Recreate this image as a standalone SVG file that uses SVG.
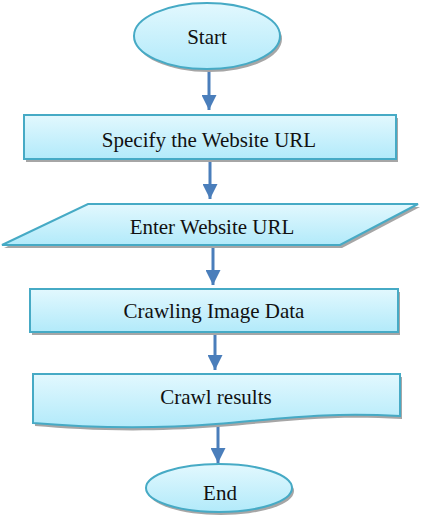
<svg xmlns="http://www.w3.org/2000/svg" width="426" height="524" viewBox="0 0 426 524">
<defs>
<linearGradient id="fillG" x1="0" y1="0" x2="0" y2="1">
<stop offset="0" stop-color="#e2f8fe"/>
<stop offset="1" stop-color="#b2eafa"/>
</linearGradient>
<marker id="ah" markerWidth="5" markerHeight="5" refX="5" refY="2.5" orient="auto" markerUnits="strokeWidth">
<path d="M0,0 L5,2.5 L0,5 Z" fill="#4a7ebb"/>
</marker>
<style>
.shape{fill:url(#fillG);stroke:#46aac5;stroke-width:2;}
.shadow{fill:#a6a6a6;stroke:none;}
text{font-family:'Liberation Serif',serif;font-size:21px;fill:#111;text-anchor:middle;}
.conn{stroke:#4a7ebb;stroke-width:3;fill:none;marker-end:url(#ah);}
</style>
</defs>
<rect width="426" height="524" fill="#ffffff"/>
<g id="connectors">
<line class="conn" x1="209" y1="70" x2="209" y2="110"/>
<line class="conn" x1="210" y1="160" x2="210" y2="199"/>
<line class="conn" x1="213" y1="246" x2="213" y2="285"/>
<line class="conn" x1="215" y1="333" x2="215" y2="370"/>
<line class="conn" x1="218" y1="425" x2="218" y2="463"/>
</g>
<g id="start">
<ellipse class="shadow" cx="209" cy="39" rx="73" ry="33"/>
<ellipse class="shape" cx="207" cy="36" rx="73" ry="33"/>
<text x="207" y="44" font-family="Liberation Serif, serif">Start</text>
</g>
<g id="specify">
<rect class="shadow" x="26" y="118" width="372" height="44"/>
<rect class="shape" x="24" y="115" width="372" height="44"/>
<text x="209" y="147" font-family="Liberation Serif, serif">Specify the Website URL</text>
</g>
<g id="enter">
<polygon class="shadow" points="90,207 420,207 342,248 4,248"/>
<polygon class="shape" points="88,204 418,204 340,245 2,245"/>
<text x="212" y="234" font-family="Liberation Serif, serif">Enter Website URL</text>
</g>
<g id="crawling">
<rect class="shadow" x="32" y="292" width="368" height="43"/>
<rect class="shape" x="30" y="289" width="368" height="43"/>
<text x="214" y="318" font-family="Liberation Serif, serif">Crawling Image Data</text>
</g>
<g id="results">
<path class="shadow" d="M35,377 H402 V419 C330,415 290,421 218,427 C142,433 82,430 35,426 Z"/>
<path class="shape" d="M33,374 H400 V416 C328,412 288,418 216,424 C140,430 80,427 33,423 Z"/>
<text x="216" y="404" font-family="Liberation Serif, serif">Crawl results</text>
</g>
<g id="end">
<ellipse class="shadow" cx="221" cy="491" rx="73" ry="24"/>
<ellipse class="shape" cx="219" cy="488" rx="73" ry="24"/>
<text x="220" y="500" font-family="Liberation Serif, serif">End</text>
</g>
</svg>
